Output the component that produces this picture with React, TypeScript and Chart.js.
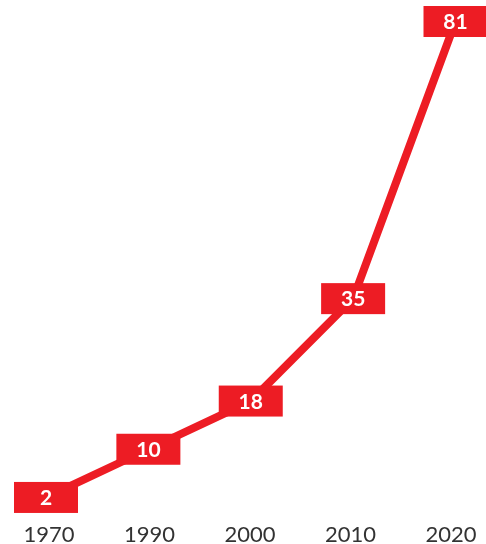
import React, { useEffect, useRef } from "react";
import { Chart, registerables } from "chart.js";

Chart.register(...registerables);

const years = ["1970", "1990", "2000", "2010", "2020"];
const values = [2, 10, 18, 35, 81];

const RED = "#ED1C24";

const labelBoxes = {
  id: "labelBoxes",
  afterDatasetsDraw(chart: any) {
    const ctx = chart.ctx;
    const meta = chart.getDatasetMeta(0);
    ctx.save();
    meta.data.forEach((el: any, i: number) => {
      const x = el.x;
      const y = el.y;
      ctx.fillStyle = RED;
      ctx.fillRect(x - 32, y - 15.5, 64, 31);
      ctx.fillStyle = "#ffffff";
      ctx.font = "bold 21px Lato";
      ctx.textAlign = "center";
      ctx.textBaseline = "middle";
      ctx.fillText(String(values[i]), x, y + 1);
    });
    ctx.restore();
  },
};

export default function App() {
  const ref = useRef<HTMLCanvasElement | null>(null);
  useEffect(() => {
    if (!ref.current) return;
    const chart = new Chart(ref.current, {
      type: "line",
      data: {
        labels: years,
        datasets: [
          {
            data: values,
            borderColor: RED,
            borderWidth: 8,
            pointRadius: 0,
            pointHoverRadius: 0,
            tension: 0,
            clip: false as any,
            xAxisID: "x",
            yAxisID: "y",
          },
        ],
      },
      options: {
        animation: false,
        responsive: true,
        maintainAspectRatio: false,
        events: [],
        layout: { padding: { left: 46, right: 30.5, top: 21.5, bottom: 0 } },
        plugins: { legend: { display: false }, tooltip: { enabled: false } },
        scales: {
          x: { type: "category", display: false, offset: false },
          xt: {
            type: "linear",
            position: "bottom",
            min: -0.0299,
            max: 4.0448,
            grid: { display: false },
            border: { display: false },
            afterBuildTicks: (scale: any) => {
              scale.ticks = years.map((_, i) => ({ value: i }));
            },
            afterFit: (scale: any) => {
              scale.height = 34.5;
            },
            ticks: {
              autoSkip: false,
              maxRotation: 0,
              padding: 6,
              color: "#333333",
              font: { family: "Lato", size: 22, lineHeight: 1 },
              callback: (v: any) => years[Math.round(Number(v))] ?? "",
            },
          },
          y: { type: "linear", display: false, min: 0, max: 81 },
        },
      },
      plugins: [labelBoxes],
    });
    return () => chart.destroy();
  }, []);
  return (
    <div style={{ position: "absolute", left: 0, top: 0, width: 486, height: 544 }}>
      <canvas ref={ref} />
    </div>
  );
}
